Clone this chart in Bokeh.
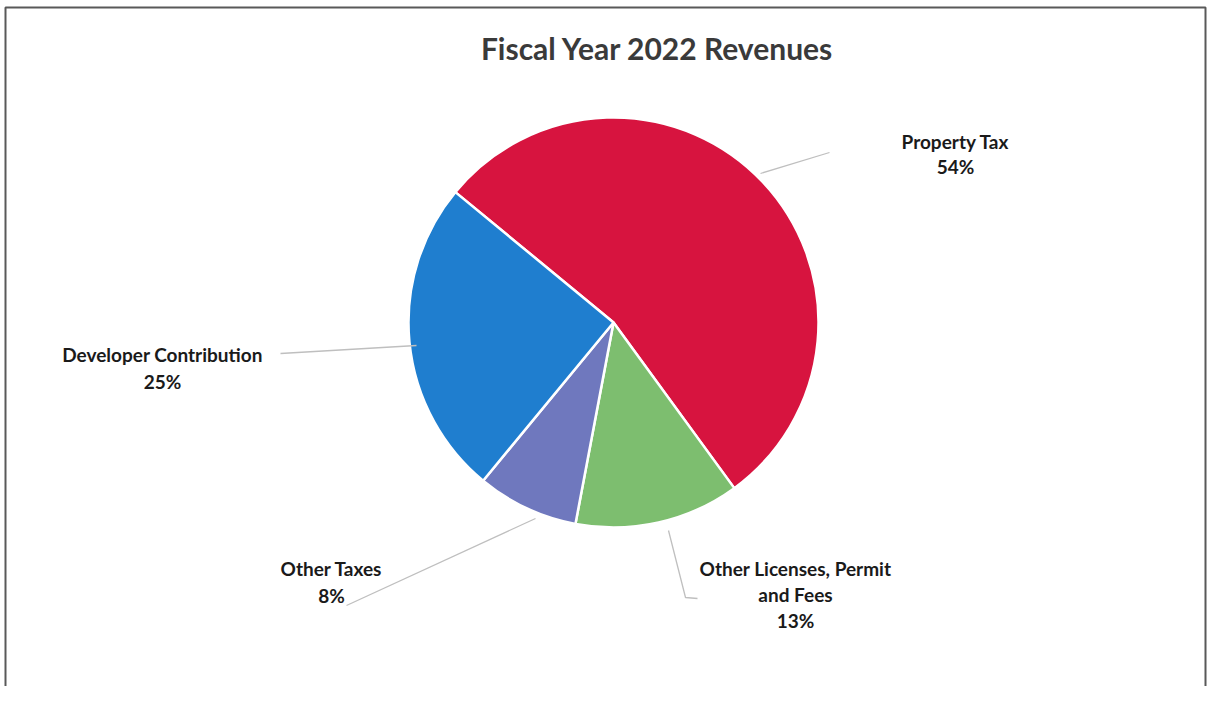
import math
from bokeh.plotting import figure
from bokeh.models import Range1d, ColumnDataSource
from bokeh.core.properties import value
from bokeh.embed import file_html
from bokeh.resources import INLINE

# ---- data ----
categories = ["Property Tax", "Other Licenses, Permit and Fees", "Other Taxes", "Developer Contribution"]
shares = [54, 13, 8, 25]
colors = ["#D7143F", "#7DBE6F", "#6F78BE", "#1F7ECF"]
title_text = "Fiscal Year 2022 Revenues"

# ---- layout (reference pixel coordinates; y is negated for plotting) ----
W, H = 1207, 686
cx, cy, R = 613, 322, 205
start_deg = 140.5  # angle where the first slice starts, going clockwise

p = figure(width=W, height=H, output_backend="svg", toolbar_location=None,
           x_range=Range1d(0, W), y_range=Range1d(-H, 0),
           min_border=0)
p.axis.visible = False
p.grid.visible = False
p.outline_line_color = None
p.background_fill_color = "white"

# wedges
total = float(sum(shares))
starts, ends = [], []
cum = 0.0
for v in shares:
    a_hi = start_deg - cum / total * 360.0
    cum += v
    a_lo = start_deg - cum / total * 360.0
    starts.append(math.radians(a_lo))
    ends.append(math.radians(a_hi))
src = ColumnDataSource(dict(x=[cx] * len(shares), y=[-cy] * len(shares),
                            start=starts, end=ends, color=colors))
p.wedge(x="x", y="y", radius=R, start_angle="start", end_angle="end",
        fill_color="color", line_color="white", line_width=2.5, source=src)

# leader lines
leaders = [
    ([760, 829], [173, 152]),
    ([280, 416], [353, 345]),
    ([346, 535], [605, 518]),
    ([668, 685, 697], [530, 597, 598]),
]
for xs, ys in leaders:
    p.line(xs, [-y for y in ys], line_color="#BFBFBF", line_width=1.3)

# labels
font = value("Lato")
label_pos = [
    (955, [141, 166]),
    (795, [568, 594, 620]),
    (331, [568, 595]),
    (162, [354, 381]),
]
label_lines = [
    [categories[0], f"{shares[0]}%"],
    ["Other Licenses, Permit", "and Fees", f"{shares[1]}%"],
    [categories[2], f"{shares[2]}%"],
    [categories[3], f"{shares[3]}%"],
]
for (lx, lys), lines in zip(label_pos, label_lines):
    p.text(x=[lx] * len(lines), y=[-y for y in lys], text=lines,
           text_font=font, text_font_style="bold", text_font_size="19px",
           text_color="#1a1a1a", text_align="center", text_baseline="middle")

# title
p.text(x=[657], y=[-47], text=[title_text], text_font=font, text_font_style="bold",
       text_font_size="30px", text_color="#3a3a3a", text_align="center",
       text_baseline="middle")

# frame (left, top, right)
p.line([5, 5, 1205, 1205], [-H, -7, -7, -H], line_color="#595959", line_width=2)

open("out.html", "w").write(file_html(p, INLINE))
